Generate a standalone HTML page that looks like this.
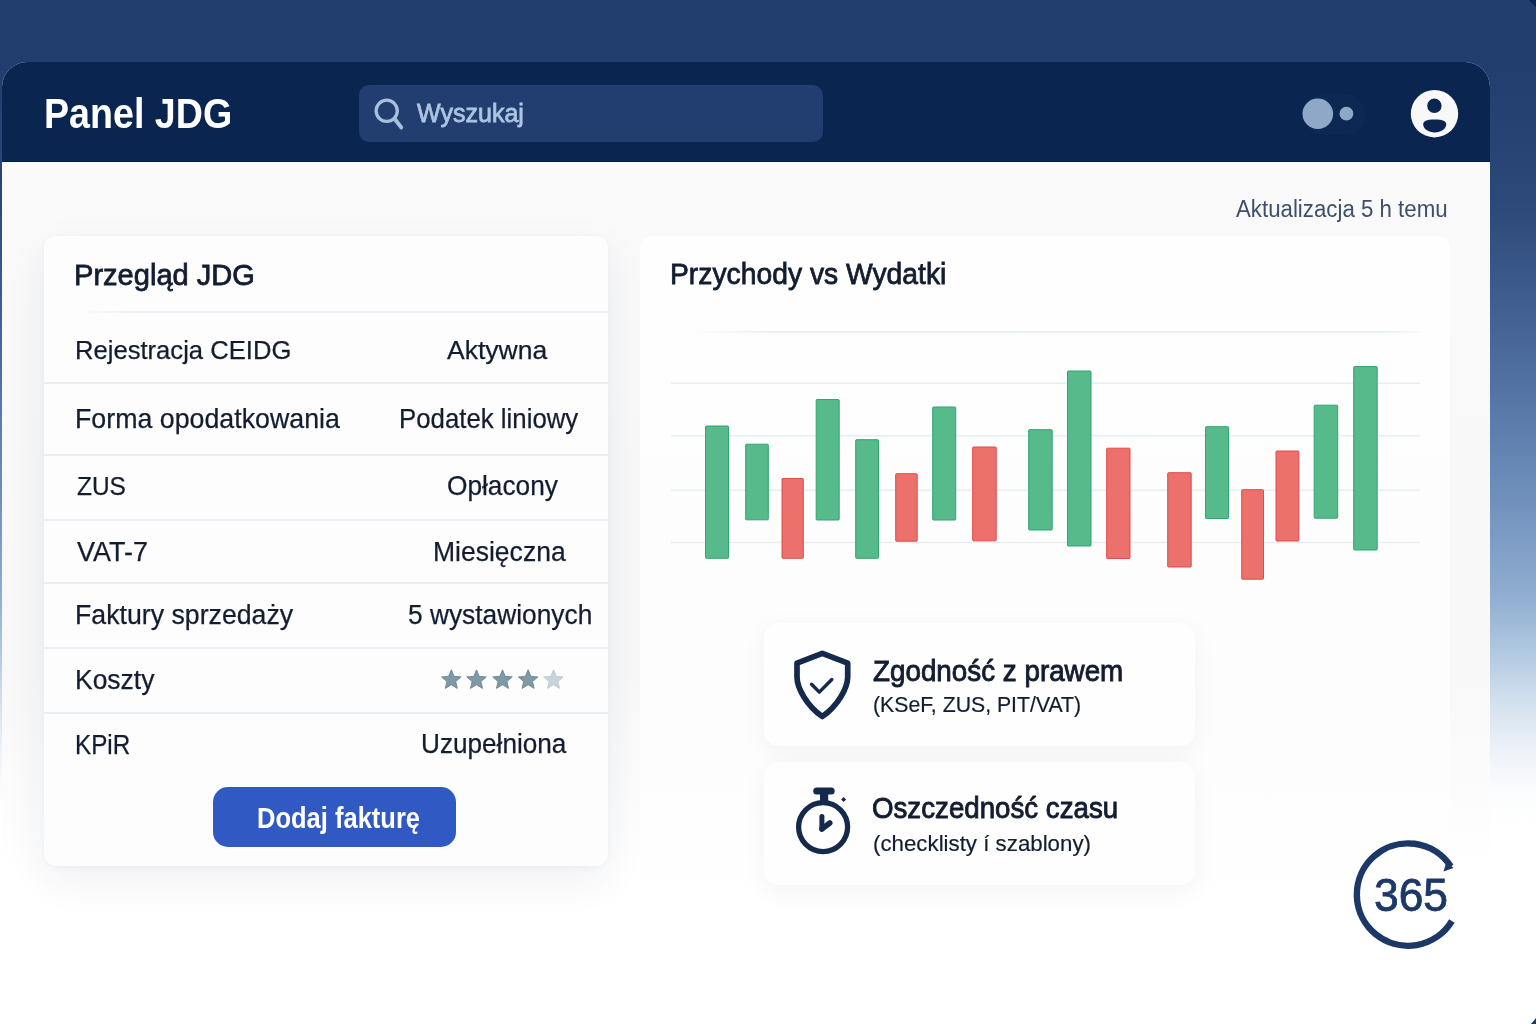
<!DOCTYPE html>
<html lang="pl">
<head>
<meta charset="utf-8">
<title>Panel JDG</title>
<style>
*{box-sizing:border-box;margin:0;padding:0}
html,body{width:1536px;height:1024px;overflow:hidden}
body{position:relative;font-family:"Liberation Sans",sans-serif;color:#131d30;
 background:linear-gradient(180deg,#223e6e 0px,#223e6e 70px,#2b4878 200px,#3f5d8f 300px,#5676a7 400px,#7090bc 500px,#92afd2 600px,#afc7e0 650px,#d1dfed 700px,#edf2f8 750px,#fcfdfe 795px,#ffffff 830px,#ffffff 1024px);}
.grp{position:absolute;left:0;top:0;width:0;height:0}
.t{position:absolute;white-space:nowrap;line-height:1;transform-origin:0 0;display:block}
.window{position:absolute;left:2px;top:62px;width:1488px;height:962px;border-radius:25px 25px 0 0;overflow:hidden;
 background:linear-gradient(180deg,#fafafb 100px,#f8f8f9 400px,#f8f8f9 620px,#ffffff 810px);}
.topbar{position:absolute;left:0;top:0;width:100%;height:100px;background:#0a2550;border-bottom:1.5px solid #071c42}
.search{position:absolute;left:357px;top:23px;width:464px;height:57px;border-radius:10px;background:#223d6f}
.card{position:absolute;background:#fff}
.card.left{left:42px;top:174px;width:564px;height:630px;border-radius:12px;background:#fdfdfd;box-shadow:0 14px 40px rgba(30,45,80,.07),0 2px 6px rgba(30,45,80,.03)}
.card.right{left:638px;top:174px;width:810px;height:800px;border-radius:12px 12px 0 0;background:linear-gradient(180deg,#fefefe 0,#fdfdfd 500px,#ffffff 700px)}
.sep{position:absolute;left:0;width:564px;height:2px;background:#e9eef4}
.btnbox{position:absolute;left:168.5px;top:550.7px;width:243.2px;height:60.5px;border-radius:15px;background:#3159c4}
.info{position:absolute;left:761.5px;width:431px;border-radius:15px;background:#fefefe;box-shadow:0 6px 24px rgba(30,45,80,.05)}
svg{position:absolute;overflow:visible}
</style>
</head>
<body>
<div class="window">
  <header class="topbar">
    <div class="search"></div>
  </header>
  <section class="card left">
    <div class="sep" style="left:36px;width:528px;top:75px;background:linear-gradient(90deg,rgba(233,238,244,0),#e9eef4 60px)"></div>
    <div class="sep" style="top:146px"></div>
    <div class="sep" style="top:217.5px"></div>
    <div class="sep" style="top:282.5px"></div>
    <div class="sep" style="top:345.5px"></div>
    <div class="sep" style="top:411.2px"></div>
    <div class="sep" style="top:475.5px"></div>
    <div class="btnbox"></div>
  </section>
  <section class="card right"></section>
  <div class="info" style="top:560.5px;height:123.5px"></div>
  <div class="info" style="top:700.3px;height:122.5px"></div>
</div>

<!-- header content -->
<div class="grp" role="banner">
<span class="t brand" style="left:44.25px;top:91.84px;font-size:42.91px;transform:scaleX(0.8766);font-weight:700;color:#ffffff;">Panel JDG</span>
<svg style="left:0;top:0" width="1536" height="200" viewBox="0 0 1536 200">
  <g fill="none" stroke="#a8c0dc" stroke-width="3.3" stroke-linecap="round">
    <circle cx="386.7" cy="110.8" r="10.6"/>
    <path d="M394.8 119 L401.2 127.4" stroke-width="4"/>
  </g>
  <path d="M1529 0 L1536 0 L1536 7Z" fill="#0a2550"/>
  <rect x="1303" y="94" width="62.5" height="40.5" rx="20" fill="#0c2853"/>
  <circle cx="1317.8" cy="113.8" r="15.3" fill="#90a8c7"/>
  <circle cx="1346.4" cy="113.7" r="6.9" fill="#90a8c7"/>
  <circle cx="1434.5" cy="113.7" r="23.7" fill="#f8f8f9"/>
  <circle cx="1434.4" cy="105.8" r="7.2" fill="#0a2550"/>
  <path d="M1423.2 124.3 C1423.2 121,1426 119.4,1434.6 119.4 S1446.2 121,1446.2 124.3 C1446.2 129,1441 132.5,1434.7 132.5 S1423.2 129,1423.2 124.3Z" fill="#0a2550"/>
</svg>
<span class="t ph" style="left:416.58px;top:99.80px;font-size:26.51px;transform:scaleX(0.9447);color:#adc5e0;-webkit-text-stroke:0.8px currentColor;">Wyszukaj</span>
<span class="t upd" style="left:1235.90px;top:196.65px;font-size:24.73px;transform:scaleX(0.9005);color:#3d4f6a;">Aktualizacja 5 h temu</span>
</div>

<!-- left card -->
<div class="grp" role="region" aria-label="Przegląd JDG">
<span class="t h2" style="left:74.46px;top:259.70px;font-size:30.29px;transform:scaleX(0.9600);-webkit-text-stroke:0.8px currentColor;">Przegląd JDG</span>
<span class="t k" style="left:75.19px;top:337.42px;font-size:26.60px;transform:scaleX(0.9629);-webkit-text-stroke:0.25px currentColor;">Rejestracja CEIDG</span><span class="t v" style="left:447.32px;top:337.42px;font-size:26.60px;transform:scaleX(0.9974);-webkit-text-stroke:0.25px currentColor;">Aktywna</span>
<span class="t k" style="left:75.18px;top:404.54px;font-size:27.64px;transform:scaleX(0.9691);-webkit-text-stroke:0.25px currentColor;">Forma opodatkowania</span><span class="t v" style="left:399.25px;top:404.54px;font-size:27.64px;transform:scaleX(0.9339);-webkit-text-stroke:0.25px currentColor;">Podatek liniowy</span>
<span class="t k" style="left:77.02px;top:473.12px;font-size:26.60px;transform:scaleX(0.9203);-webkit-text-stroke:0.25px currentColor;">ZUS</span><span class="t v" style="left:446.64px;top:473.10px;font-size:26.75px;transform:scaleX(0.9815);-webkit-text-stroke:0.25px currentColor;">Opłacony</span>
<span class="t k" style="left:76.82px;top:537.69px;font-size:27.35px;transform:scaleX(0.9864);-webkit-text-stroke:0.25px currentColor;">VAT-7</span><span class="t v" style="left:432.68px;top:537.59px;font-size:27.35px;transform:scaleX(0.9697);-webkit-text-stroke:0.25px currentColor;">Miesięczna</span>
<span class="t k" style="left:75.17px;top:600.89px;font-size:27.35px;transform:scaleX(0.9767);-webkit-text-stroke:0.25px currentColor;">Faktury sprzedaży</span><span class="t v" style="left:407.96px;top:600.79px;font-size:27.35px;transform:scaleX(0.9624);-webkit-text-stroke:0.25px currentColor;">5 wystawionych</span>
<span class="t k" style="left:75.19px;top:666.09px;font-size:27.35px;transform:scaleX(0.9673);-webkit-text-stroke:0.25px currentColor;">Koszty</span>
<svg style="left:0;top:0" width="1536" height="1024" viewBox="0 0 1536 1024">
  <defs>
    <path id="star" d="M0.00 -10.25 L2.70 -3.72 L9.75 -3.17 L4.37 1.42 L6.02 8.29 L0.00 4.60 L-6.02 8.29 L-4.37 1.42 L-9.75 -3.17 L-2.70 -3.72Z"/>
  </defs>
  <g fill="#7f99a6" stroke="#66848f" stroke-width="0.9" stroke-linejoin="round">
    <use href="#star" x="451.3" y="680.1"/><use href="#star" x="476.5" y="680.1"/><use href="#star" x="502.5" y="680.1"/><use href="#star" x="528.1" y="680.1"/>
    <use href="#star" x="553.5" y="680.1" fill="#c6d4dc" stroke="#b9cad3"/>
  </g>
</svg>
<span class="t k" style="left:75.34px;top:730.59px;font-size:27.35px;transform:scaleX(0.8863);-webkit-text-stroke:0.25px currentColor;">KPiR</span><span class="t v" style="left:421.01px;top:730.19px;font-size:27.35px;transform:scaleX(0.9566);-webkit-text-stroke:0.25px currentColor;">Uzupełniona</span>
<span class="t btn" style="left:257.09px;top:802.90px;font-size:29.82px;transform:scaleX(0.8557);font-weight:700;color:#ffffff;">Dodaj fakturę</span>
</div>

<!-- right card -->
<div class="grp" role="region" aria-label="Przychody vs Wydatki">
<span class="t h2" style="left:670.40px;top:259.34px;font-size:30.25px;transform:scaleX(0.9349);-webkit-text-stroke:0.8px currentColor;">Przychody vs Wydatki</span>
<svg style="left:0;top:0" width="1536" height="1024" viewBox="0 0 1536 1024">
  <defs>
    <linearGradient id="gfade" x1="0" x2="1" y1="0" y2="0"><stop offset="0" stop-color="#e7ecf3" stop-opacity="0"/><stop offset="0.12" stop-color="#e7ecf3" stop-opacity="1"/><stop offset="0.95" stop-color="#e7ecf3" stop-opacity="1"/><stop offset="1" stop-color="#e7ecf3" stop-opacity="0.3"/></linearGradient>
  </defs>
  <g stroke="#e8edf4" stroke-width="1.5">
    <rect x="690" y="331" width="730" height="1.6" fill="url(#gfade)" stroke="none"/>
    <path d="M671 383.2H1420M671 435.8H1420M671 490.2H1420M671 542.6H1420"/>
  </g>
  <g fill="#57ba8b" stroke="#2ea670" stroke-width="1">
    <rect x="705.5" y="426" width="23" height="132.3" rx="0.7"/>
    <rect x="745.7" y="444.2" width="22.6" height="75.6" rx="0.7"/>
    <rect x="816.2" y="399.5" width="23" height="120.5" rx="0.7"/>
    <rect x="855.7" y="439.7" width="22.8" height="118.6" rx="0.7"/>
    <rect x="932.7" y="407" width="23" height="113" rx="0.7"/>
    <rect x="1028.7" y="429.7" width="23.5" height="100.3" rx="0.7"/>
    <rect x="1067.5" y="371" width="23.5" height="175" rx="0.7"/>
    <rect x="1205.5" y="426.7" width="23" height="91.8" rx="0.7"/>
    <rect x="1314.2" y="405.2" width="23.5" height="113" rx="0.7"/>
    <rect x="1353.7" y="366.5" width="23.5" height="183.5" rx="0.7"/>
  </g>
  <g fill="#ec706b" stroke="#e54b46" stroke-width="1">
    <rect x="782" y="478.5" width="21.3" height="79.8" rx="0.7"/>
    <rect x="895.7" y="473.7" width="21.5" height="67.5" rx="0.7"/>
    <rect x="972.7" y="447" width="23.5" height="93.8" rx="0.7"/>
    <rect x="1106.7" y="448.2" width="23.3" height="110.3" rx="0.7"/>
    <rect x="1167.7" y="472.7" width="23.5" height="94.3" rx="0.7"/>
    <rect x="1241.7" y="489.7" width="21.8" height="89.5" rx="0.7"/>
    <rect x="1276" y="451" width="22.8" height="90" rx="0.7"/>
  </g>
  <!-- shield -->
  <g fill="none" stroke="#14294b" stroke-linejoin="round" stroke-linecap="round">
    <path stroke-width="5.7" d="M822.3 653.3 L847.7 663.2 V677 C847.7 688,837.6 706,822.3 716.5 C807 706,797 688,797 677 V663.2 Z"/>
    <path stroke-width="3.4" d="M811.6 684.2 L819.3 692.1 L831.8 679.5"/>
  </g>
  <!-- stopwatch -->
  <g fill="none" stroke="#14294b" stroke-linejoin="round" stroke-linecap="round">
    <circle cx="823.1" cy="827.1" r="24.5" stroke-width="5.3"/>
    <path stroke-width="5" d="M821.9 816.6 V829"/><path stroke-width="5.5" d="M821.9 829 L829.8 823"/>
    <rect x="813.2" y="787.4" width="21.5" height="7.2" rx="3.6" fill="#14294b" stroke="none"/>
    <rect x="820" y="792" width="8.2" height="9" fill="#14294b" stroke="none"/>
    <path d="M843.6 796.9 L846.1 799.4 L843.6 801.9 L841.1 799.4Z" fill="#14294b" stroke="none"/>
  </g>
  <!-- 365 ring -->
  <g fill="none" stroke="#1b3866" stroke-width="6.4">
    <path d="M1450.8 866.4 A51.2 51.2 0 1 0 1451.9 921"/>
  </g>
  <path d="M1446.5 861.5 L1453.5 868 L1443.5 871.5Z" fill="#1b3866"/>
  <path d="M1536 1018 L1536 1024 L1531 1024Z" fill="#1b3866"/>
</svg>
<span class="t h3" style="left:873.41px;top:656.34px;font-size:30.25px;transform:scaleX(0.9189);-webkit-text-stroke:0.9px currentColor;">Zgodność z prawem</span>
<span class="t sub" style="left:872.75px;top:693.65px;font-size:22.55px;transform:scaleX(0.9422);-webkit-text-stroke:0.2px currentColor;">(KSeF, ZUS, PIT/VAT)</span>
<span class="t h3" style="left:872.49px;top:793.43px;font-size:29.96px;transform:scaleX(0.9240);-webkit-text-stroke:0.9px currentColor;">Oszczedność czasu</span>
<span class="t sub" style="left:873.02px;top:831.62px;font-size:22.87px;transform:scaleX(0.9749);-webkit-text-stroke:0.2px currentColor;">(checklisty í szablony)</span>
<span class="t n365" style="left:1373.53px;top:872.36px;font-size:46.62px;transform:scaleX(0.9518);color:#1b3866;-webkit-text-stroke:0.8px currentColor;">365</span>
</div>
</body>
</html>
